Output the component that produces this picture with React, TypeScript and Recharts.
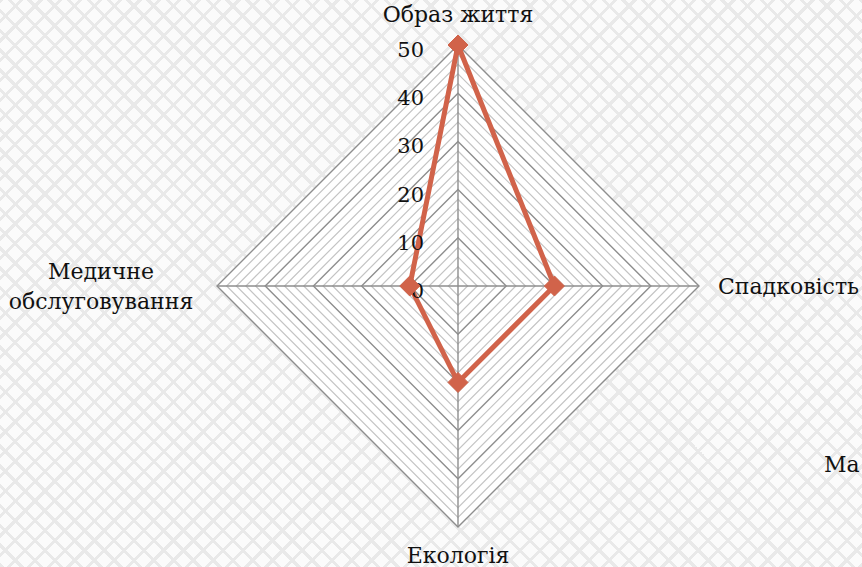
import { Legend, PolarAngleAxis, PolarGrid, PolarRadiusAxis, Radar, RadarChart } from 'recharts';

const factors = ['Образ життя', 'Спадковість', 'Екологія', 'Медичне обслуговування'];
const shares = [50, 20, 20, 10];
const radiusTicks = [0, 10, 20, 30, 40, 50];
const minorTicks = [2, 4, 6, 8, 12, 14, 16, 18, 22, 24, 26, 28, 32, 34, 36, 38, 42, 44, 46, 48];
const seriesName = 'Ма';

const chartData = factors.map((name, i) => ({ name, value: shares[i] }));

const MAX = 50;
const OUTER = 241;
const FONT = '"DejaVu Serif", "Liberation Serif", serif';
const LINE = '#D1634A';

const AngleTick = ({ x, y, payload, index }) => {
  const label = payload.value;
  const style = { fontFamily: FONT, fontSize: 22, fill: '#111' };
  if (index === 0) {
    return <text x={x} y={y - 15} textAnchor="middle" style={style}>{label}</text>;
  }
  if (index === 1) {
    return <text x={x + 11} y={y + 8} textAnchor="start" style={style}>{label}</text>;
  }
  if (index === 2) {
    return <text x={x} y={y + 28} textAnchor="middle" style={style}>{label}</text>;
  }
  const parts = label.split(' ');
  return (
    <text x={x - 108} y={y - 7} textAnchor="middle" style={style}>
      <tspan x={x - 108} dy={0}>{parts[0]}</tspan>
      <tspan x={x - 108} dy={30}>{parts[1]}</tspan>
    </text>
  );
};

const RadiusTick = ({ x, y, payload }) => (
  <text x={x - 34} y={y + 12} textAnchor="end" style={{ fontFamily: FONT, fontSize: 21, fill: '#111' }}>
    {payload.value}
  </text>
);

const Diamond = ({ cx, cy }) => (
  <path d={`M${cx},${cy - 10} L${cx + 10},${cy} L${cx},${cy + 10} L${cx - 10},${cy} Z`} fill={LINE} stroke={LINE} strokeWidth={1} />
);

export default function App() {
  return (
    <div
      style={{
        position: 'absolute',
        left: 0,
        top: 0,
        width: 862,
        height: 567,
        overflow: 'hidden',
        backgroundColor: '#fbfbfb',
        backgroundImage:
          'repeating-linear-gradient(45deg, #e9e9e9 0 3px, transparent 3px 14px), repeating-linear-gradient(-45deg, #e9e9e9 0 3px, transparent 3px 14px)',
      }}
    >
      <RadarChart width={862} height={567} cx={458} cy={286} outerRadius={OUTER} data={chartData} margin={{ top: 0, right: 0, bottom: 0, left: 0 }}>
        <PolarGrid gridType="polygon" polarRadius={[OUTER]} radialLines={false} fill="#fff" fillOpacity={1} stroke="none" />
        <PolarGrid gridType="polygon" polarRadius={minorTicks.map((v) => (v / MAX) * OUTER)} radialLines={false} stroke="#c4c4c4" strokeWidth={1.2} />
        <PolarGrid gridType="polygon" polarRadius={radiusTicks.map((v) => (v / MAX) * OUTER)} stroke="#8e8e8e" strokeWidth={1.4} />
        <PolarAngleAxis dataKey="name" tick={AngleTick} tickLine={false} axisLine={false} />
        <PolarRadiusAxis angle={90} domain={[0, MAX]} ticks={radiusTicks} tick={RadiusTick} axisLine={false} tickLine={false} />
        <Radar name={seriesName} dataKey="value" stroke={LINE} strokeWidth={5} fill="none" dot={Diamond} isAnimationActive={false} />
        <Legend
          layout="vertical"
          wrapperStyle={{ left: 824, top: 452, width: 200 }}
          content={() => <div style={{ fontFamily: FONT, fontSize: 22, color: '#111', whiteSpace: 'nowrap' }}>{seriesName}</div>}
        />
      </RadarChart>
    </div>
  );
}
